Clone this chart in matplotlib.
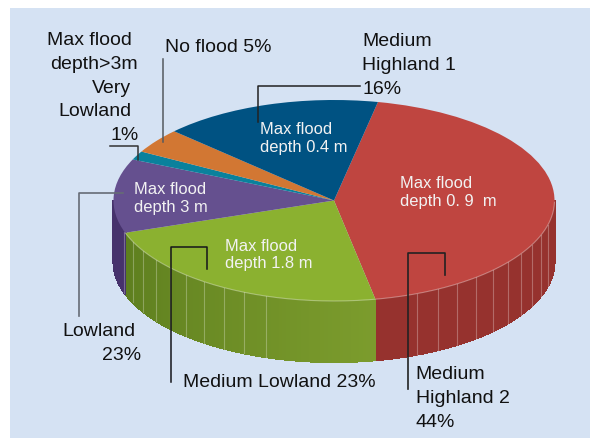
import numpy as np
import matplotlib
matplotlib.use("Agg")
from matplotlib import pyplot as plt

plt.rcParams['font.family'] = ['Liberation Sans', 'DejaVu Sans']

# slice shares as they are drawn, clockwise from the top right
slices = ["Medium Highland 2", "Medium Lowland", "Lowland", "Very Lowland", "No flood", "Medium Highland 1"]
shares = [43.8, 22.8, 11.9, 1.4, 4.0, 16.1]
top_colors = ["#bf4540", "#8bb130", "#65508f", "#0a819c", "#d27733", "#005282"]
wall_left = ["#96322e", "#7c9c2d", "#46326c", "#08657a", "#a85c26", "#00395c"]
wall_right = ["#96322e", "#5d7e1e", "#46326c", "#08657a", "#a85c26", "#00395c"]
start_angle = 78.5

W, H = 590, 439
cx, cy, rx, ry = 334, 201.5, 220.5, 100.5
depth = 61 / ry

fig = plt.figure(figsize=(W / 100, H / 100), dpi=100, facecolor="white")

# pale panel, the picture has a white strip on the top and left
bg = fig.add_axes([10 / W, 0, 1 - 10 / W, 1 - 9 / H], facecolor="#d5e2f3", zorder=0)
bg.set_xticks([])
bg.set_yticks([])
for sp in bg.spines.values():
    sp.set_visible(False)

# pie axes: one data unit is the radius, squashed to look tilted
ax = fig.add_axes([0, 0, 1, 1], zorder=1)
wedges, _ = ax.pie(shares, colors=top_colors, startangle=start_angle, counterclock=False,
                   wedgeprops=dict(linewidth=0), radius=1)
ax.set_aspect('auto')
ax.set_xlim(-cx / rx, (W - cx) / rx)
ax.set_ylim((cy - H) / ry, cy / ry)
for w in wedges:
    w.set_zorder(5)

# side wall, only the front half shows
for w, c1, c2 in zip(wedges, wall_left, wall_right):
    t1, t2 = w.theta1 % 360, w.theta2 % 360
    if t1 > t2:
        t2 += 360
    lo, hi = max(t1, 180), min(t2, 360)
    if lo >= hi:
        continue
    angles = np.append(np.arange(lo, hi, 1.0), hi)
    c1, c2 = np.array(matplotlib.colors.to_rgb(c1)), np.array(matplotlib.colors.to_rgb(c2))
    for a, b in zip(angles[:-1], angles[1:]):
        f = (a - lo) / max(hi - lo, 1)
        col = c2 * (1 - f) + c1 * f
        xs = np.cos(np.radians([a, b, b, a]))
        ys = np.sin(np.radians([a, b, b, a])) + np.array([0, 0, -depth, -depth])
        ax.fill(xs, ys, facecolor=col, edgecolor=col, lw=0.8, zorder=2, antialiased=False)

# thin light panel lines on the wall
for a in list(np.arange(198, 258, 6)) + list(np.arange(292, 350, 6)):
    x = np.cos(np.radians(a))
    y = np.sin(np.radians(a))
    ax.plot([x, x], [y, y - depth], color="white", alpha=0.28, lw=0.8, zorder=3)
arc = np.radians(np.arange(199, 360, 1))
ax.plot(np.cos(arc), np.sin(arc), color="white", alpha=0.35, lw=0.8, zorder=6)

# overlay in pixels for the leaders and labels
px = fig.add_axes([0, 0, 1, 1], facecolor="none", zorder=10)
px.set_xlim(0, W)
px.set_ylim(H, 0)
px.axis('off')

px.plot([163, 163], [60, 143], color="#55595f", lw=1.1)
px.plot([110, 138, 138], [147, 147, 161], color="#333333", lw=1.1)
px.plot([258, 258, 360], [123, 87, 87], color="#222222", lw=1.1)
px.plot([123, 79, 79], [194, 194, 317], color="#666c75", lw=1.2)
px.plot([170.5, 170.5, 207, 207], [383, 248, 248, 270], color="#15151a", lw=1.1)
px.plot([408, 408, 445, 445], [390, 254, 254, 276], color="#222222", lw=1.2)


def label(x, y, s, ha="left", color="#111111", size=14.0):
    px.text(x, y + 1.8, s, ha=ha, va="center", color=color, fontsize=size)


label(47, 39, "Max flood")
label(50, 63, "depth>3m")
label(131, 87, "Very", ha="right")
label(131, 110, "Lowland", ha="right")
label(110, 134, "1%")
label(165, 46, "No flood 5%")
label(362.5, 40, "Medium")
label(362.5, 64, "Highland 1")
label(362.5, 88, "16%")
label(62.5, 330, "Lowland")
label(102, 354, "23%")
label(183, 381, "Medium Lowland 23%")
label(415.5, 373, "Medium")
label(415.5, 397, "Highland 2")
label(415.5, 421, "44%")

white = "#f2f2f2"
label(260, 127.5, "Max flood", color=white, size=11.9)
label(260, 145.5, "depth 0.4 m", color=white, size=11.9)
label(400, 181.5, "Max flood", color=white, size=11.9)
label(400, 199.5, "depth 0. 9  m", color=white, size=11.9)
label(134, 188, "Max flood", color=white, size=11.9)
label(134, 205.5, "depth 3 m", color=white, size=11.9)
label(225, 244.5, "Max flood", color=white, size=11.9)
label(225, 261.5, "depth 1.8 m", color=white, size=11.9)

fig.savefig("out.png", dpi=100, facecolor=fig.get_facecolor())
